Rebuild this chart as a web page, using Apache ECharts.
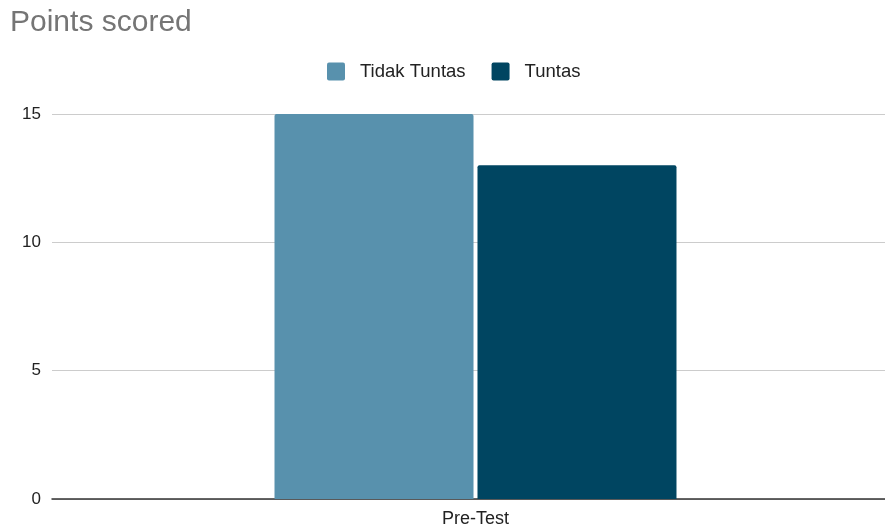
<!DOCTYPE html>
<html>
<head>
<meta charset="utf-8">
<script src="https://cdn.jsdelivr.net/npm/echarts@6/dist/echarts.min.js"></script>
<style>
    html, body { margin: 0; padding: 0; background: #fff; }
    #main { width: 885px; height: 529px; }
</style>
</head>
<body>
<div id="main"></div>
<script>
const categories = ['Pre-Test'];
const tidakTuntas = [15];
const tuntas = [13];
const yTicks = [0, 5, 10, 15];

let chart = echarts.init(document.getElementById('main'));
let font = '"Liberation Sans", Arial, sans-serif';

let option = {
    backgroundColor: '#ffffff',
    animation: false,
    title: {
        text: 'Points scored',
        left: 5,
        top: 3,
        textStyle: {fontFamily: font, fontSize: 30, fontWeight: 'normal', color: '#757575'}
    },
    legend: {
        top: 57,
        left: 322,
        itemWidth: 18,
        itemHeight: 18,
        itemGap: 26,
        // square with slightly rounded corners
        icon: 'path://M2,0H16Q18,0 18,2V16Q18,18 16,18H2Q0,18 0,16V2Q0,0 2,0Z',
        textStyle: {fontFamily: font, fontSize: 18.5, color: '#222', padding: [0, 0, 0, 10]},
        data: ['Tidak Tuntas', 'Tuntas']
    },
    // plot runs a bit past the right edge, so the bars sit right of centre
    grid: {left: 52, right: -14, top: 114, bottom: 30, containLabel: false, outerBoundsMode: 'none'},
    xAxis: {
        type: 'category',
        data: categories,
        axisTick: {show: false},
        axisLine: {lineStyle: {color: '#333', width: 1.5}},
        axisLabel: {fontFamily: font, fontSize: 18, color: '#222', margin: 11}
    },
    yAxis: {
        type: 'value',
        min: yTicks[0],
        max: yTicks[yTicks.length - 1],
        interval: 5,
        axisLine: {show: false},
        axisTick: {show: false},
        splitLine: {lineStyle: {color: '#cccccc', width: 1}},
        axisLabel: {fontFamily: font, fontSize: 17, color: '#222', margin: 11}
    },
    series: [
        {
            name: 'Tidak Tuntas',
            type: 'bar',
            data: tidakTuntas,
            barWidth: 199,
            barGap: '2%',
            itemStyle: {color: '#5891ad', borderRadius: [2, 2, 0, 0]}
        },
        {
            name: 'Tuntas',
            type: 'bar',
            data: tuntas,
            barWidth: 199,
            itemStyle: {color: '#004561', borderRadius: [2, 2, 0, 0]}
        }
    ]
};

option && chart.setOption(option);
</script>
</body>
</html>
